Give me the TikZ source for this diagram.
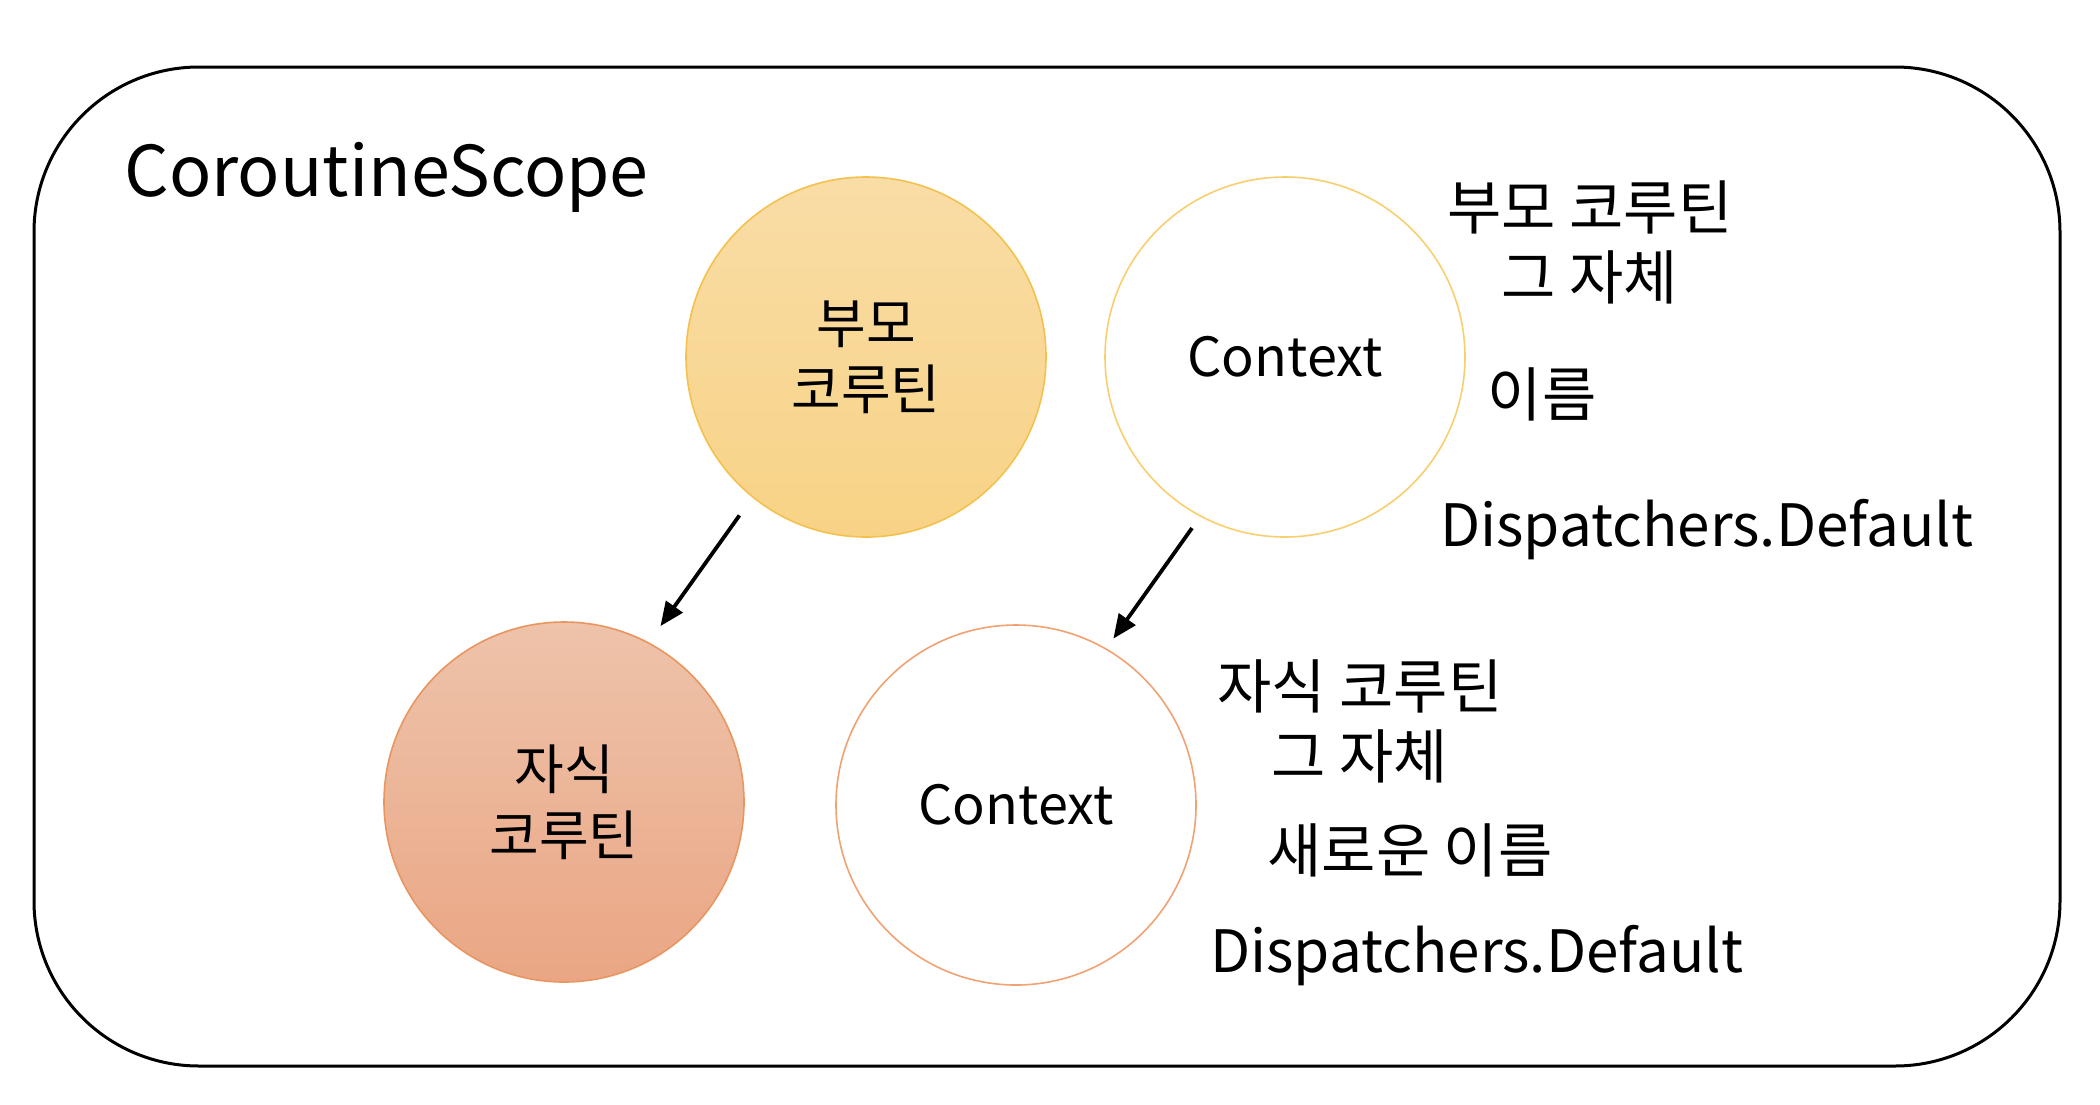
\documentclass[tikz,border=0pt]{standalone}
\usepackage{fontspec}
\setmainfont{Noto Sans CJK KR}
\usetikzlibrary{arrows.meta}
\definecolor{parentfillT}{HTML}{F9DDA6}
\definecolor{parentfillB}{HTML}{F8D386}
\definecolor{parentline}{HTML}{F4C14F}
\definecolor{childfillT}{HTML}{EEC3AA}
\definecolor{childfillB}{HTML}{EAA684}
\definecolor{childline}{HTML}{E8955F}
\definecolor{ctxtopline}{HTML}{F9CE6E}
\definecolor{ctxbotline}{HTML}{F0A273}
\tikzset{
  bubble/.style={circle, minimum size=180pt, inner sep=0pt, line width=0.8pt, align=center},
  circtext/.style={font=\fontsize{27}{33}\selectfont},
  ctxtext/.style={font=\fontsize{27}{32}\selectfont},
  labeltext/.style={font=\fontsize{29.5}{35}\selectfont, inner sep=0pt, align=center},
  disptext/.style={font=\fontsize{29.2}{36}\selectfont, inner sep=0pt},
  link/.style={-{Triangle[length=12pt,width=10pt]}, line width=1.9pt}
}
\begin{document}
\begin{tikzpicture}[x=0.5pt,y=-0.5pt]
\useasboundingbox (0,0) rectangle (2100,1104);
% outer scope box
\node[draw, line width=1.5pt, rounded corners=82.5pt, minimum width=1013pt, minimum height=499.5pt, inner sep=0pt] (scope) at (1047,566.5) {};
\node[anchor=base west, inner sep=0pt, font=\fontsize{35}{40}\selectfont] (scopetitle) at (124,196) {CoroutineScope};
% circles
\node[bubble, circtext, draw=parentline, top color=parentfillT, bottom color=parentfillB] (parent) at (866,357) {부모\\코루틴};
\node[bubble, ctxtext, draw=ctxtopline, fill=white] (ctxtop) at (1285,357) {Context};
\node[bubble, circtext, draw=childline, top color=childfillT, bottom color=childfillB] (child) at (564,802) {자식\\코루틴};
\node[bubble, ctxtext, draw=ctxbotline, fill=white] (ctxbot) at (1016,805) {Context};
% labels
\node[labeltext] (plabel) at (1590,242) {부모 코루틴\\그 자체};
\node[labeltext] (pname) at (1542,394) {이름};
\node[disptext, anchor=base west] (pdisp) at (1440,546) {Dispatchers.Default};
\node[labeltext] (clabel) at (1360,721) {자식 코루틴\\그 자체};
\node[labeltext] (cname) at (1410,850) {새로운 이름};
\node[disptext, anchor=base west] (cdisp) at (1210,972) {Dispatchers.Default};
% arrows
\draw[link, shorten <=11pt, shorten >=10pt] (parent.231) -- (child.62);
\draw[link, shorten <=7pt, shorten >=6pt] (ctxtop.242) -- (ctxbot.60.5);
\end{tikzpicture}
\end{document}
